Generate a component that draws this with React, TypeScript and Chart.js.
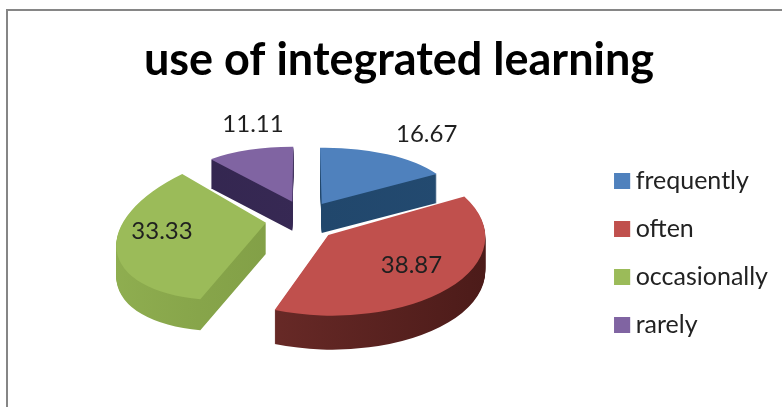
import React, { useEffect, useRef } from "react";
import { Chart, registerables } from "chart.js";

Chart.register(...registerables);

const categories = ["frequently", "often", "occasionally", "rarely"];
const shares = [16.67, 38.87, 33.33, 11.11];
const shareLabels = ["16.67", "38.87", "33.33", "11.11"];
const topColors = ["#4f81bd", "#c0504d", "#9bbb59", "#8064a2"];
const sideColors = [
  ["#1f4468", "#234a70"],
  ["#74302d", "#4c1b19"],
  ["#8fae50", "#76923e"],
  ["#33264f", "#3a2b58"],
];
const paintOrder = [3, 0, 2, 1];

// Hand-fitted 3D view of every exploded slice: apex, the two axes of its tilted disc, extrusion depth.
const sliceViews = [
  { e: 321.7, f: 204, ax: 133.8, ay: -2.1, cx: -1.7, cy: -56.3, depth: 29 },
  { e: 328.3, f: 235, ax: 157, ay: 2, cx: 0, cy: -80.6, depth: 34 },
  { e: 266, f: 222.7, ax: 149, ay: -14.9, cx: 15.7, cy: -76.1, depth: 31 },
  { e: 292.3, f: 201.7, ax: 128, ay: 0.5, cx: 1, cy: -55, depth: 29 },
];
// Label anchor of every slice in units of its view axes.
const labelAnchors = [
  [0.8, 1.2],
  [0.53, -0.36],
  [-0.7, 0.018],
  [-0.318, 1.41],
];

const pie3d = {
  id: "pie3d",
  beforeDatasetsDraw(chart: any) {
    const ctx = chart.ctx as CanvasRenderingContext2D;
    const arcs = chart.getDatasetMeta(0).data;
    paintOrder.forEach((i) => {
      const arc = arcs[i];
      const v = sliceViews[i];
      const r = arc.outerRadius;
      const paint = (shift: number, fill: any) => {
        const saved = arc.options;
        arc.options = { ...saved, backgroundColor: fill, borderWidth: 0 };
        ctx.save();
        ctx.translate(0, shift);
        ctx.transform(v.ax / r, v.ay / r, -v.cx / r, -v.cy / r, v.e, v.f);
        ctx.translate(-arc.x, -arc.y);
        arc.draw(ctx);
        ctx.restore();
        arc.options = saved;
      };
      const side = ctx.createLinearGradient(arc.x - r, 0, arc.x + r, 0);
      side.addColorStop(0, sideColors[i][0]);
      side.addColorStop(1, sideColors[i][1]);
      for (let d = v.depth; d > 0; d -= 1) paint(d, side);
      paint(0, topColors[i]);
    });
    ctx.save();
    ctx.font = "24px Lato";
    ctx.fillStyle = "#1f1f1f";
    ctx.textAlign = "center";
    ctx.textBaseline = "middle";
    shareLabels.forEach((text, i) => {
      const v = sliceViews[i];
      const [s, k] = labelAnchors[i];
      ctx.fillText(text, v.e + s * v.ax + k * v.cx, v.f + s * v.ay + k * v.cy);
    });
    ctx.restore();
    return false;
  },
  afterDraw(chart: any) {
    // Widen the legend swatches to square without moving the legend text.
    const ctx = chart.ctx as CanvasRenderingContext2D;
    chart.legend.legendHitBoxes.forEach((b: any, i: number) => {
      ctx.fillStyle = topColors[i];
      ctx.fillRect(b.left, b.top + (b.height - 16) / 2, 16, 16);
    });
  },
};

export default function App() {
  const ref = useRef<HTMLCanvasElement>(null);
  useEffect(() => {
    document.body.style.margin = "0";
    const chart = new Chart(ref.current!, {
      type: "pie",
      data: {
        labels: categories,
        datasets: [{ data: shares, backgroundColor: topColors, borderWidth: 0 }],
      },
      options: {
        responsive: false,
        animation: false,
        layout: { padding: { left: 20, right: 4, top: 0, bottom: 0 } },
        plugins: {
          tooltip: { enabled: false },
          title: {
            display: true,
            text: "use of integrated learning",
            color: "#000000",
            font: { family: "Lato", size: 45, weight: "bold" },
            padding: { top: 33, bottom: 12 },
          },
          legend: {
            position: "right",
            fullSize: false,
            labels: {
              boxWidth: 9,
              boxHeight: 16,
              padding: 23,
              color: "#222222",
              font: { family: "Lato", size: 25 },
            },
          },
        },
      },
      plugins: [pie3d],
    });
    return () => chart.destroy();
  }, []);
  return (
    <div style={{ position: "relative", width: 782, height: 407, overflow: "hidden", background: "#ffffff" }}>
      <canvas ref={ref} width={782} height={407} style={{ position: "absolute", left: 0, top: 0 }} />
      <div
        style={{
          position: "absolute",
          left: 6,
          top: 9,
          width: 800,
          height: 420,
          borderLeft: "2px solid #868686",
          borderTop: "2px solid #868686",
        }}
      />
    </div>
  );
}
